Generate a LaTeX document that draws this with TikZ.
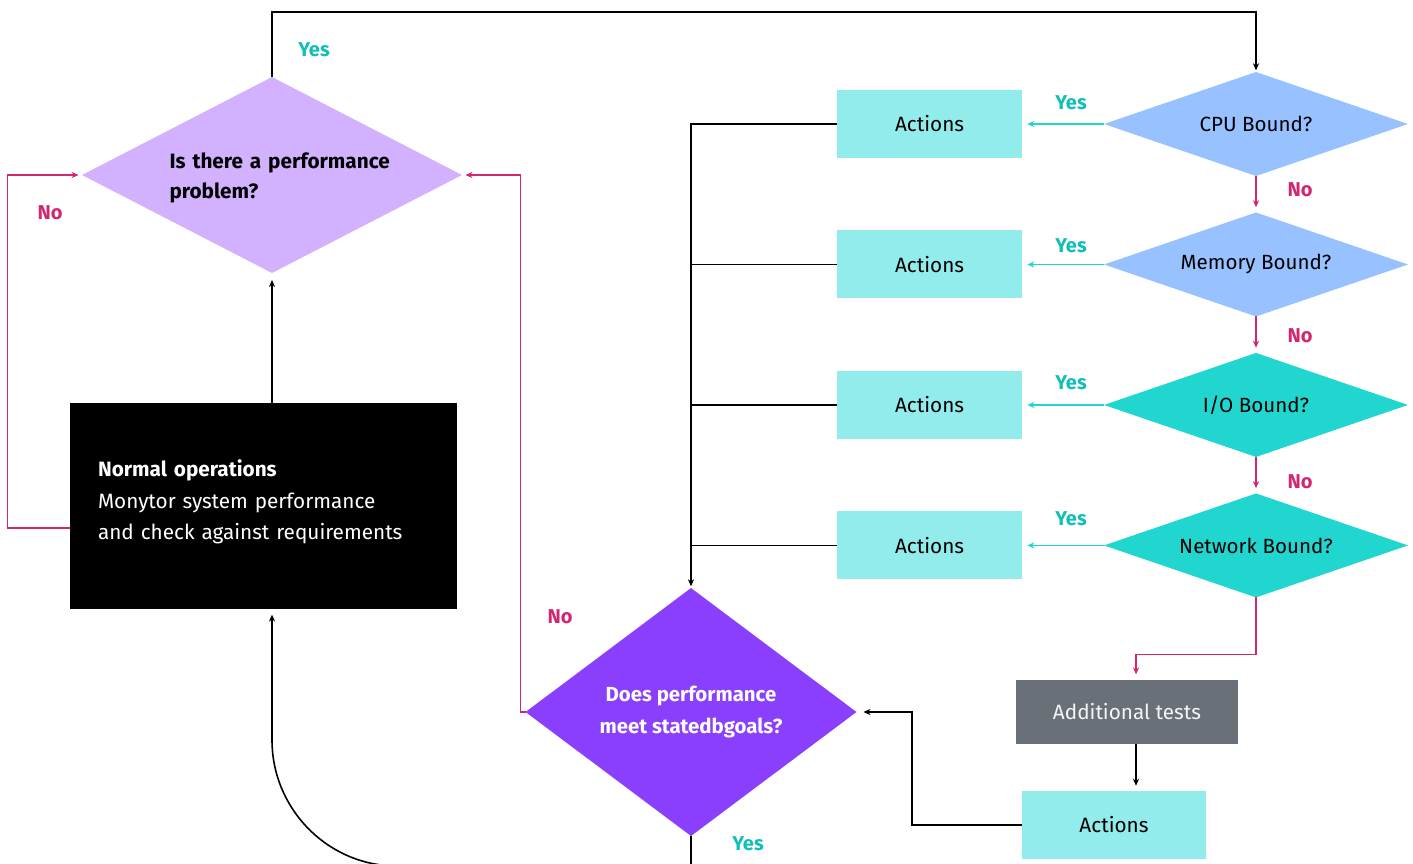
\documentclass[tikz,border=0pt]{standalone}
\usepackage{fontspec}
\setmainfont{Fira Sans}
\usetikzlibrary{shapes.geometric, positioning, arrows.meta}

\definecolor{lavender}{HTML}{D2B1FF}
\definecolor{skyblue}{HTML}{97C1FF}
\definecolor{aqua}{HTML}{22D6D0}
\definecolor{paleaqua}{HTML}{93ECEC}
\definecolor{deeppurple}{HTML}{8A3FFC}
\definecolor{slate}{HTML}{697077}
\definecolor{yesteal}{HTML}{11BFB9}
\definecolor{nopink}{HTML}{D12771}

\tikzset{
  decision/.style={diamond, inner sep=0pt, outer sep=0pt, font=\fontsize{11.7}{17.5}\selectfont},
  actionbox/.style={rectangle, fill=paleaqua, inner sep=0pt, outer sep=0pt,
    minimum width=3.7cm, minimum height=1.36cm, font=\fontsize{11.8}{14}\selectfont},
  yeslabel/.style={text=yesteal, font=\bfseries\fontsize{11.4}{13}\selectfont},
  nolabel/.style={text=nopink, font=\bfseries\fontsize{11.4}{13}\selectfont},
  flow/.style={draw=black, line width=0.9pt, -{Stealth[length=4pt, width=3.5pt]}},
  yesflow/.style={draw=aqua, line width=0.9pt, -{Stealth[length=4pt, width=3.5pt]}, shorten >=3pt},
  noflow/.style={draw=nopink, line width=0.9pt, -{Stealth[length=4pt, width=3.5pt]}},
  trunk/.style={draw=black, line width=0.9pt}
}

\begin{document}
\begin{tikzpicture}[x=0.02cm, y=-0.02cm, node distance=2.81cm]
    \useasboundingbox (0,0) rectangle (1413,863);

    % left column
    \node[decision, fill=lavender, aspect=1.94, minimum width=7.6cm, minimum height=3.92cm] (perf) at (272,175) {};
    \node[text width=4.7cm, align=left, font=\bfseries\fontsize{11.8}{17.5}\selectfont] (perftext) at (287,178) {Is there a performance\\problem?};
    \node[rectangle, fill=black, minimum width=7.74cm, minimum height=4.12cm] (normal) at (263.5,506) {};
    \node[text=white, text width=6.2cm, align=left, font=\fontsize{11.8}{17.8}\selectfont] (normaltext) at (253,502)
          {\textbf{Normal operations}\\Monytor system performance\\and check against requirements};

    % checks on the right
    \node[decision, fill=skyblue, aspect=2.92, minimum width=6.08cm, minimum height=2.08cm] (cpu) at (1256,124) {CPU Bound?};
    \node[decision, fill=skyblue, aspect=2.92, minimum width=6.08cm, minimum height=2.08cm, below of=cpu] (mem) {Memory Bound?};
    \node[decision, fill=aqua, aspect=2.92, minimum width=6.08cm, minimum height=2.08cm, below of=mem] (io) {I/O Bound?};
    \node[decision, fill=aqua, aspect=2.92, minimum width=6.08cm, minimum height=2.08cm, below of=io] (net) {Network Bound?};

    \node[actionbox, left of=cpu, node distance=6.53cm] (act1) {Actions};
    \node[actionbox, left of=mem, node distance=6.53cm] (act2) {Actions};
    \node[actionbox, left of=io, node distance=6.53cm] (act3) {Actions};
    \node[actionbox, left of=net, node distance=6.53cm] (act4) {Actions};

    \node[rectangle, fill=slate, text=white!93!slate, minimum width=4.44cm, minimum height=1.28cm,
          font=\fontsize{11.8}{14}\selectfont] (addtest) at (1127,712) {Additional tests};
    \node[actionbox, minimum width=3.68cm] (act5) at (1114,825) {Actions};

    \node[decision, fill=deeppurple, text=white, aspect=1.33, minimum width=6.62cm, minimum height=4.96cm,
          align=center, font=\bfseries\fontsize{11.6}{17.8}\selectfont] (meet) at (691,712) {Does performance\\meet statedbgoals?};

    \coordinate (loopback) at (397,866);
    \coordinate (turn) at (272,740);

    % connectors
    \draw[flow, shorten >=4pt] (perf.south |- normal.north) -- (perf.south);
    \draw[noflow, shorten >=2pt] ([yshift=-0.44cm]normal.west) -- ++(-62,0) |- (perf.west);
    \draw[flow, shorten >=1pt] (perf.north) -- ++(0,-65) -| (cpu.north);

    \draw[yesflow] (cpu.west) -- (act1.east);
    \draw[yesflow] (mem.west) -- (act2.east);
    \draw[yesflow] (io.west) -- (act3.east);
    \draw[yesflow] (net.west) -- (act4.east);

    \draw[noflow, shorten >=3pt] (cpu.south) -- (mem.north);
    \draw[noflow, shorten >=3pt] (mem.south) -- (io.north);
    \draw[noflow, shorten >=3pt] (io.south) -- (net.north);

    \draw[flow, shorten >=1pt] (act1.west) -| (meet.north);
    \draw[trunk] (act2.west) -- (act2.west -| meet.north);
    \draw[trunk] (act3.west) -- (act3.west -| meet.north);
    \draw[trunk] (act4.west) -- (act4.west -| meet.north);

    \draw[noflow, shorten >=2pt] (meet.west) -- ++(-5,0) |- (perf.east);
    \draw[noflow, shorten >=3pt] (net.south) -- ++(0,57) -| ([xshift=0.18cm]addtest.north);
    \draw[flow, shorten >=3pt] ([xshift=0.18cm]addtest.south) -- ([xshift=0.18cm]addtest.south |- act5.north);
    \draw[flow, shorten >=4pt] (act5.west) -- ++(-110,0) |- (meet.east);
    \draw[flow, shorten >=3pt] (meet.south) |- (loopback) .. controls +(-69,0) and +(0,69) .. (turn) -- (perf.south |- normal.south);

    % labels
    \node[yeslabel] (yestop) at (314,50) {Yes};
    \node[nolabel] (noleft) at (50,213) {No};
    \node[yeslabel] (yes1) at (1071,103) {Yes};
    \node[yeslabel] (yes2) at (1071,246) {Yes};
    \node[yeslabel] (yes3) at (1071,383) {Yes};
    \node[yeslabel] (yes4) at (1071,519) {Yes};
    \node[nolabel] (no1) at (1300,190) {No};
    \node[nolabel] (no2) at (1300,336) {No};
    \node[nolabel] (no3) at (1300,482) {No};
    \node[nolabel] (nomid) at (560,617) {No};
    \node[yeslabel] (yesbottom) at (748,844) {Yes};
\end{tikzpicture}
\end{document}
